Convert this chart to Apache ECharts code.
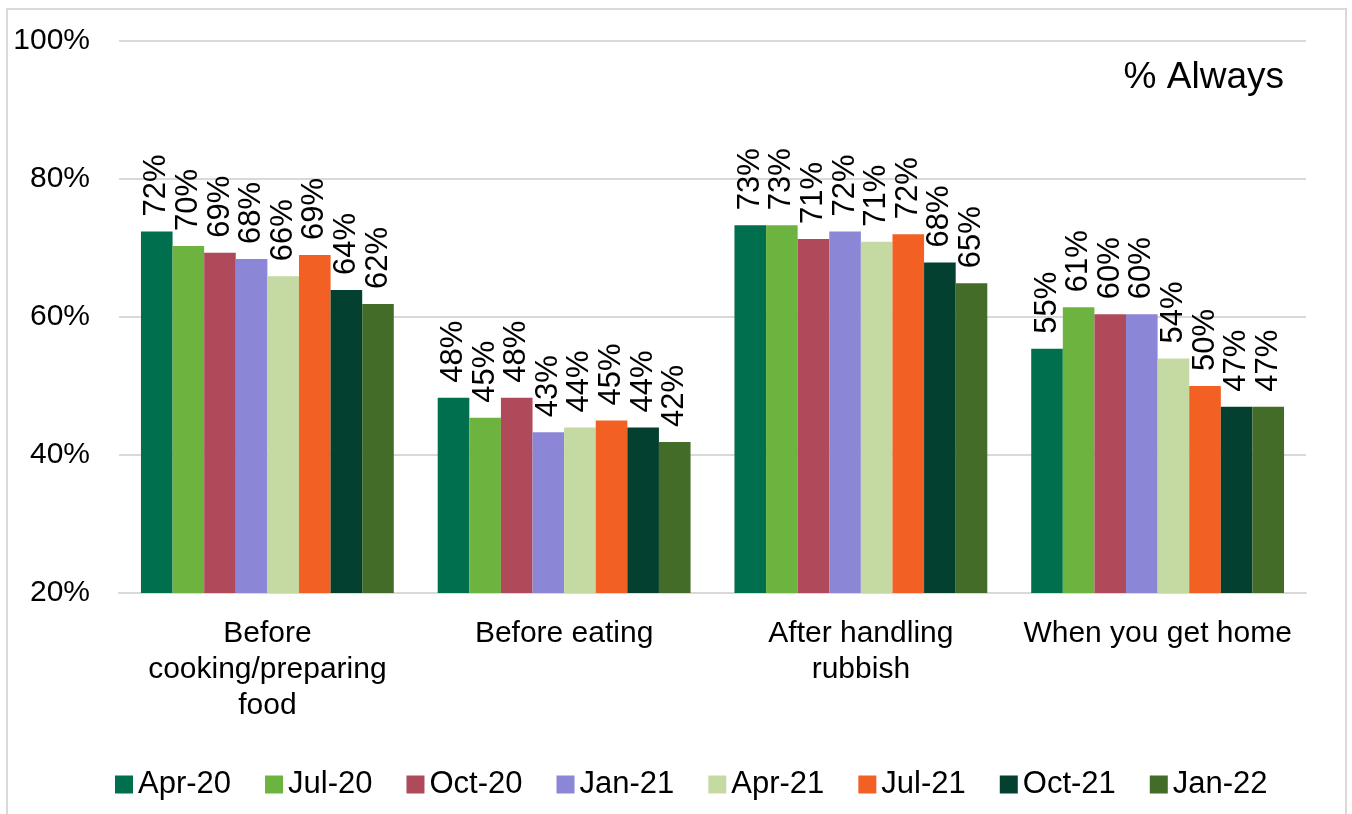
<!DOCTYPE html>
<html>
<head>
<meta charset="utf-8">
<style>
  html, body { margin: 0; padding: 0; background: #fff; }
  #chart { width: 1352px; height: 814px; }
</style>
<script src="https://cdn.jsdelivr.net/npm/echarts@6/dist/echarts.min.js"></script>
</head>
<body>
<div id="chart"></div>
<script>
// категории и серии
const categories = ['Before\ncooking/preparing\nfood', 'Before eating', 'After handling\nrubbish', 'When you get home']
const waves = ['Apr-20', 'Jul-20', 'Oct-20', 'Jan-21', 'Apr-21', 'Jul-21', 'Oct-21', 'Jan-22']
const colors = ['#006F4E', '#6DB33F', '#AE4A5A', '#8C86D6', '#C4DAA2', '#F26024', '#03402F', '#436C28']

// значения по волнам (в %), порядок как в categories
const apr20 = [72.4, 48.3, 73.3, 55.4]
const jul20 = [70.3, 45.4, 73.3, 61.4]
const oct20 = [69.3, 48.3, 71.3, 60.4]
const jan21 = [68.4, 43.3, 72.4, 60.4]
const apr21 = [65.9, 44.0, 70.9, 54.0]
const jul21 = [69.0, 45.0, 72.0, 50.0]
const oct21 = [63.9, 44.0, 67.9, 47.0]
const jan22 = [61.9, 41.9, 64.9, 47.0]
const values = [apr20, jul20, oct20, jan21, apr21, jul21, oct21, jan22]

const FONT = '"Liberation Sans", Arial, sans-serif'

const chart = echarts.init(document.getElementById('chart'))

chart.setOption({
  backgroundColor: '#fff',
  animation: false,
  textStyle: { fontFamily: FONT, color: '#000' },
  title: {
    text: '% Always',
    right: 63,
    top: 54,
    textStyle: { fontFamily: FONT, fontSize: 37, fontWeight: 'normal', color: '#000' },
  },
  graphic: [{
    type: 'rect',
    shape: { x: 7, y: 9, width: 1339, height: 830 },
    style: { fill: 'none', stroke: '#d9d9d9', lineWidth: 2 },
    silent: true,
  }],
  grid: { left: 119, right: 46, top: 41, bottom: 221 },
  legend: {
    data: waves,
    left: 110,
    top: 764,
    icon: 'rect',
    itemWidth: 18,
    itemHeight: 18,
    itemGap: 34,
    textStyle: { fontFamily: FONT, fontSize: 31, color: '#000' },
  },
  xAxis: {
    type: 'category',
    data: categories,
    axisTick: { show: false },
    axisLine: { lineStyle: { color: '#d9d9d9', width: 2 } },
    axisLabel: {
      fontFamily: FONT, fontSize: 30, lineHeight: 36, color: '#000',
      margin: 23, interval: 0,
    },
  },
  yAxis: {
    type: 'value',
    min: 20,
    max: 100,
    interval: 20,
    axisLine: { show: false },
    axisTick: { show: false },
    axisLabel: { fontFamily: FONT, fontSize: 30, color: '#000', margin: 29, formatter: '{value}%' },
    splitLine: { lineStyle: { color: '#d9d9d9', width: 2 } },
  },
  series: waves.map((name, i) => ({
    name,
    type: 'bar',
    data: values[i],
    barGap: '0%',
    barCategoryGap: '14.8%',
    itemStyle: { color: colors[i] },
    label: {
      show: true,
      position: 'top',
      rotate: 90,
      align: 'left',
      verticalAlign: 'middle',
      distance: 15,
      fontFamily: FONT,
      fontSize: 31,
      color: '#000',
      formatter: (p) => Math.round(p.value) + '%',
    },
  })),
})

window.addEventListener('resize', () => chart.resize())
</script>
</body>
</html>
